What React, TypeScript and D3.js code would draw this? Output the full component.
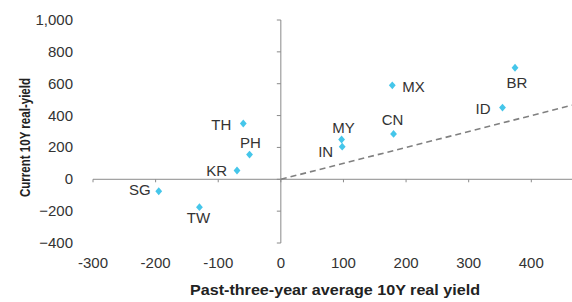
import * as d3 from 'd3';
import React from 'react';

// country codes and their (past avg, current) real yields, bp
const countries = ['BR', 'MX', 'ID', 'CN', 'MY', 'IN', 'TH', 'PH', 'KR', 'SG', 'TW'];
const pastAvg = [374, 178, 354, 180, 97, 98, -60, -50, -70, -195, -130];
const current = [700, 590, 450, 285, 250, 205, 350, 155, 55, -75, -175];

const xTicks = [-300, -200, -100, 0, 100, 200, 300, 400];
const yTicks = [-400, -200, 0, 200, 400, 600, 800, 1000];

// label offset from its dot (px) and anchor
const labelOffset: Record<string, [number, number, string]> = {
  BR: [2, 20, 'middle'],
  MX: [10, 7, 'start'],
  ID: [-12, 6, 'end'],
  CN: [-1, -9, 'middle'],
  MY: [2, -6, 'middle'],
  IN: [-9, 10, 'end'],
  TH: [-12, 6, 'end'],
  PH: [1, -7, 'middle'],
  KR: [-10, 5, 'end'],
  SG: [-8, 4, 'end'],
  TW: [-1, 16, 'middle'],
};

const W = 572;
const H = 302;

const App: React.FC = () => {
  const x = d3.scaleLinear().domain([-300, 465]).range([93, 572]);
  const y = d3.scaleLinear().domain([-400, 1000]).range([243, 20]);
  const x0 = x(0);
  const y0 = y(0);
  const fmt = d3.format(',');

  const diamond = d3.symbol().type(d3.symbolDiamond).size(22);

  return (
    <div style={{ position: 'absolute', left: 0, top: 0 }}>
      <svg width={W} height={H} style={{ display: 'block', background: '#fff' }}
        fontFamily="'Liberation Sans', Arial, sans-serif">
        {/* axis lines through the origin */}
        <line x1={x(-300)} x2={W} y1={y0} y2={y0} stroke="#8a8a8a" strokeWidth={1} />
        <line x1={x0} x2={x0} y1={y(1000)} y2={y(-400)} stroke="#8a8a8a" strokeWidth={1} />
        {xTicks.map((t) => (
          <line key={'xt' + t} x1={x(t)} x2={x(t)} y1={y0} y2={y0 + 3} stroke="#8a8a8a" />
        ))}
        {yTicks.map((t) => (
          <line key={'yt' + t} x1={x0 - 4} x2={x0} y1={y(t)} y2={y(t)} stroke="#8a8a8a" />
        ))}

        {/* tick labels at the plot edges */}
        {xTicks.map((t) => (
          <text key={'xl' + t} x={x(t)} y={268} textAnchor="middle" fontSize={15} fill="#333">
            {t}
          </text>
        ))}
        {yTicks.map((t) => (
          <text key={'yl' + t} x={73} y={y(t) + 5} textAnchor="end" fontSize={15} fill="#333">
            {fmt(t)}
          </text>
        ))}

        {/* 45 degree line */}
        <line x1={x0} y1={y0} x2={x(465)} y2={y(465)} stroke="#808080" strokeWidth={1.6}
          strokeDasharray="6,4" />

        {countries.map((c, i) => {
          const px = x(pastAvg[i]);
          const py = y(current[i]);
          const [dx, dy, anchor] = labelOffset[c];
          return (
            <g key={c}>
              <path d={diamond()!} transform={`translate(${px},${py}) scale(1.35,0.9)`} fill="#45c6ea" />
              <text x={px + dx} y={py + dy} textAnchor={anchor} fontSize={15} fill="#333">
                {c}
              </text>
            </g>
          );
        })}

        <text transform="translate(30,137.5) rotate(-90)" textAnchor="middle"
          fontSize={15.5} fontWeight="bold" fill="#222" textLength={119} lengthAdjust="spacingAndGlyphs">
          Current 10Y real-yield
        </text>
        <text x={335} y={295} textAnchor="middle" fontSize={15.5} fontWeight="bold" fill="#222"
          textLength={290} lengthAdjust="spacingAndGlyphs">
          Past-three-year average 10Y real yield
        </text>
      </svg>
    </div>
  );
};

export default App;
